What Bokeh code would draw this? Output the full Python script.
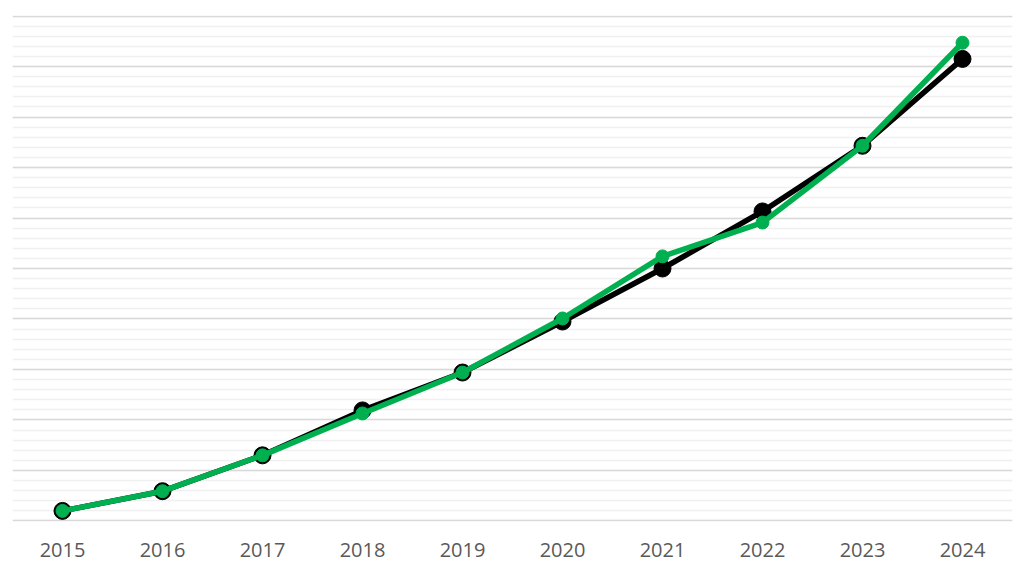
from bokeh.plotting import figure
from bokeh.models import Range1d, FixedTicker, SingleIntervalTicker
from bokeh.embed import file_html
from bokeh.resources import INLINE

years = [2015, 2016, 2017, 2018, 2019, 2020, 2021, 2022, 2023, 2024]
series_black = [0.20, 0.59, 1.30, 2.19, 2.94, 3.95, 5.00, 6.13, 7.43, 9.15]
series_green = [0.20, 0.59, 1.30, 2.13, 2.94, 4.01, 5.24, 5.91, 7.43, 9.47]
tick_labels = [str(y) for y in years]

p = figure(width=1016, height=566, output_backend="svg", toolbar_location=None,
           x_range=Range1d(2014.5, 2024.5), y_range=Range1d(-0.01, 10.01),
           min_border_left=12, min_border_right=4, min_border_top=15, min_border_bottom=45)
p.outline_line_color = None
p.background_fill_color = "white"
p.border_fill_color = "white"

p.yaxis.visible = False
p.xgrid.grid_line_color = None
p.ygrid.ticker = SingleIntervalTicker(interval=1, num_minor_ticks=5)
p.ygrid.grid_line_color = "#d9d9d9"
p.ygrid.grid_line_width = 1.5
p.ygrid.minor_grid_line_color = "#f0f0f0"
p.ygrid.minor_grid_line_width = 1.5

p.xaxis.ticker = FixedTicker(ticks=years)
p.xaxis.major_label_overrides = {y: s for y, s in zip(years, tick_labels)}
p.xaxis.axis_line_color = None
p.xaxis.major_tick_line_color = None
p.xaxis.minor_tick_line_color = None
p.xaxis.major_label_standoff = 15
p.xaxis.major_label_text_font = "Open Sans"
p.xaxis.major_label_text_font_size = "20px"
p.xaxis.major_label_text_color = "#595959"

p.line(years, series_black, line_color="black", line_width=5.5)
p.scatter(years, series_black, size=17, fill_color="black", line_color="black")
p.line(years, series_green, line_color="#00b050", line_width=5.5)
p.scatter(years, series_green, size=13, fill_color="#00b050", line_color="#00b050")

open("out.html", "w").write(file_html(p, INLINE))
